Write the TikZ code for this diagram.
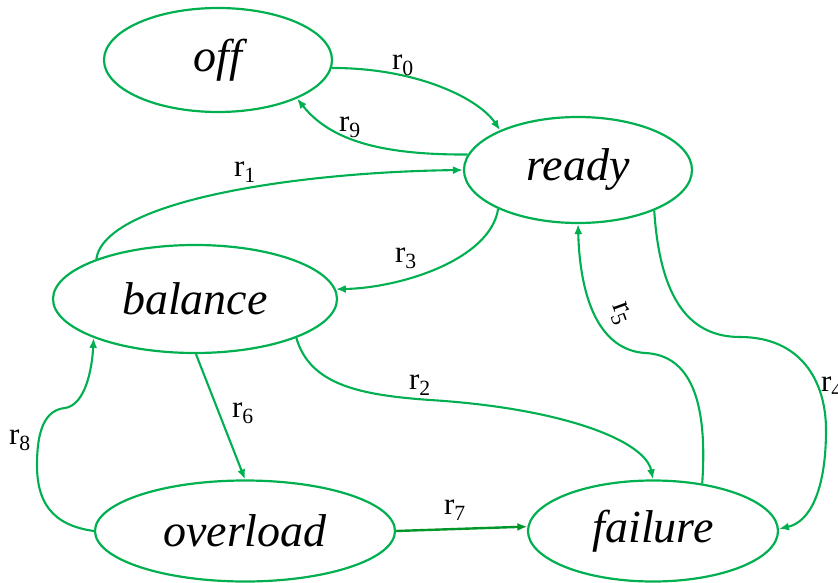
\documentclass[tikz,border=0pt]{standalone}
\usepackage{fontspec}
\setmainfont{Liberation Serif}
\usetikzlibrary{shapes.geometric,arrows.meta}
\definecolor{edgegreen}{RGB}{0,176,80}
\definecolor{darkgreen}{RGB}{0,150,40}
\newcommand{\rlab}[1]{r\textsubscript{#1}}
\begin{document}
\begin{tikzpicture}[x=1pt,y=-1pt,
  state/.style={ellipse, draw=edgegreen, line width=2.2pt, inner sep=0pt, font=\fontsize{46}{46}\selectfont\itshape},
  conn/.style={draw=edgegreen, line width=2.1pt, -{Latex[length=10pt,width=8pt]}},
  lab/.style={font=\fontsize{31}{31}\selectfont, inner sep=0pt}]
\useasboundingbox (0,0) rectangle (838,583);

\node[state, minimum width=228pt, minimum height=104pt] (off) at (218,60) {off};
\node[state, minimum width=228pt, minimum height=106pt] (ready) at (578,170) {ready};
\node[state, minimum width=284pt, minimum height=108pt] (balance) at (195,299) {balance};
\node[state, minimum width=300pt, minimum height=101pt] (overload) at (245,531) {overload};
\node[state, minimum width=250pt, minimum height=101pt] (failure) at (653,531) {failure};

\draw[conn] (off.-4) .. controls (420,68) and (480,100) .. (ready.153.7);
\draw[conn] (ready.172) .. controls (380,155) and (330,140) .. (off.-26);
\draw[conn] (balance.158) .. controls (105,200) and (300,172) .. (ready.180);
\draw[conn] (ready.206) .. controls (490,260) and (400,288) .. (balance.4);
\draw[conn] (balance.-21) .. controls (310,385) and (360,395) .. (430,400) .. controls (560,408) and (645,440) .. (failure.90);
\draw[conn] (balance.-89) -- (overload.90);
\draw[conn] (overload.180) .. controls (50,525) and (37,500) .. (37,465) .. controls (37,430) and (45,410) .. (65,408) .. controls (85,405) and (92,370) .. (balance.201);
\draw[conn, draw=darkgreen, line width=2.4pt] (overload.0) -- (failure.178);
\draw[conn] (failure.44) .. controls (708,400) and (690,355) .. (645,353) .. controls (600,350) and (580,300) .. (ready.270);
\draw[conn] (ready.-28) .. controls (660,300) and (690,337) .. (740,337) .. controls (800,337) and (826,380) .. (826,430) .. controls (826,490) and (810,522) .. (failure.1);

\node[lab] (l0) at (403,65) {\rlab{0}};
\node[lab] (l9) at (350,127) {\rlab{9}};
\node[lab] (l1) at (245,172) {\rlab{1}};
\node[lab] (l3) at (406,258) {\rlab{3}};
\node[lab, rotate=-70] (l5) at (620,314) {\rlab{5}};
\node[lab] (l4) at (832,387) {\rlab{4}};
\node[lab] (l2) at (420,385) {\rlab{2}};
\node[lab] (l6) at (243,413) {\rlab{6}};
\node[lab] (l8) at (20,440) {\rlab{8}};
\node[lab] (l7) at (455,510) {\rlab{7}};
\end{tikzpicture}
\end{document}
